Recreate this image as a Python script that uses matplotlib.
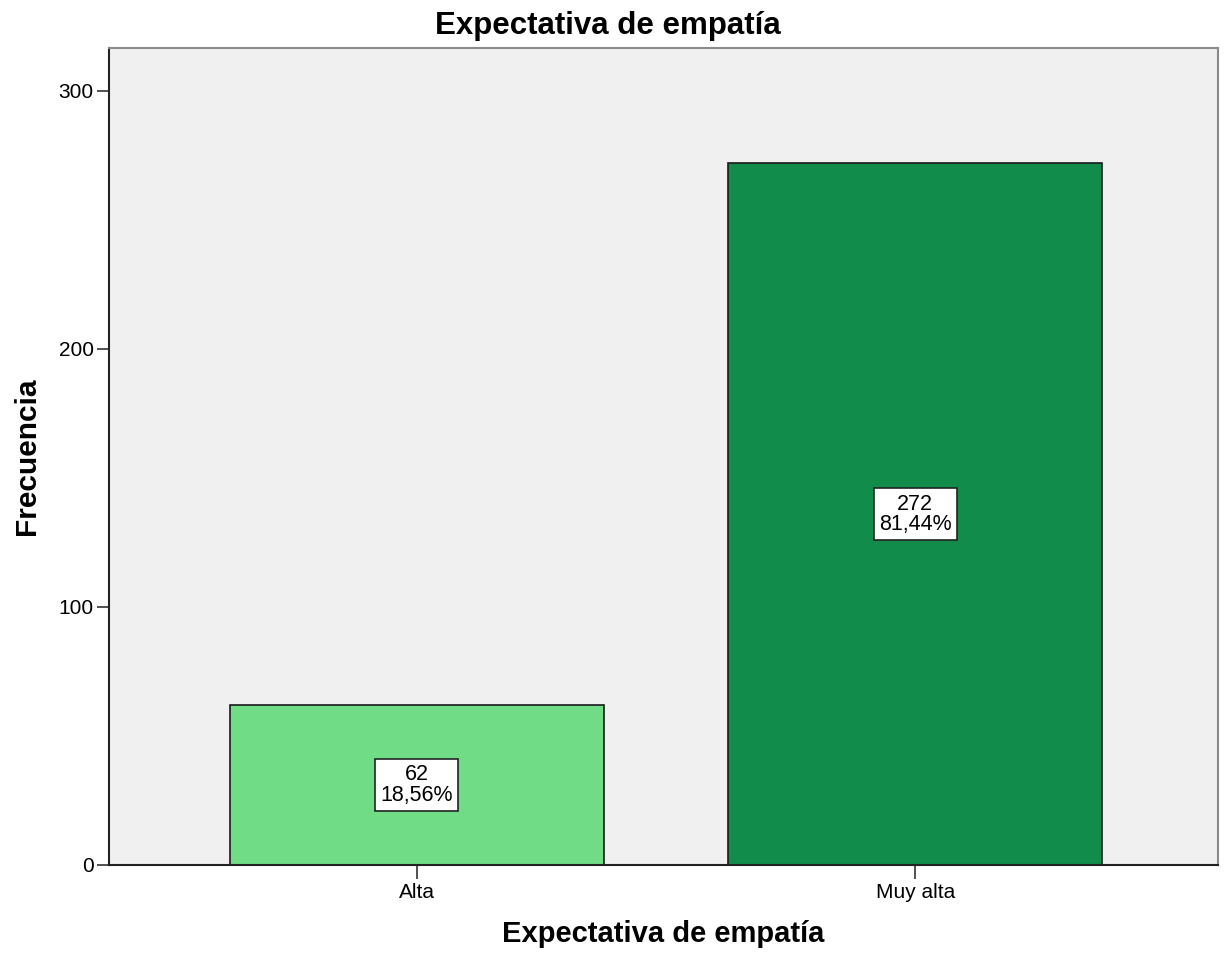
import matplotlib
matplotlib.use("Agg")
import matplotlib.pyplot as plt

categories = ["Alta", "Muy alta"]
counts = [62, 272]
percents = ["18,56%", "81,44%"]
bar_colors = ["#70dc86", "#118c4a"]

plt.rcParams['font.family'] = ['Liberation Sans', 'DejaVu Sans']

fig = plt.figure(figsize=(12.29, 9.58), dpi=100)
ax = fig.add_axes([0.0887, 0.0971, 0.9023, 0.8529])
ax.set_facecolor("#f0f0f0")

x = range(len(categories))
ax.bar(x, counts, width=0.75, color=bar_colors, edgecolor="#1a1a1a", linewidth=1.2, zorder=2)

# count and percentage label in a white box at mid height of each bar
for i, (c, p) in enumerate(zip(counts, percents)):
    ax.text(i, c / 2, f"{c}\n{p}", ha="center", va="center", fontsize=15.5,
            linespacing=0.95, zorder=3,
            bbox=dict(boxstyle="square,pad=0.25", facecolor="white", edgecolor="#222222", linewidth=1.2))

ax.set_xlim(-0.617, 1.607)
ax.set_ylim(0, 316.7)
ax.set_xticks(list(x))
ax.set_xticklabels(categories, fontsize=15)
ax.set_yticks([0, 100, 200, 300])
ax.tick_params(axis="y", labelsize=15, length=9, width=1.2, color="#333333", pad=2)
ax.tick_params(axis="x", length=10, width=1.2, color="#333333", pad=3)

for side in ["left", "bottom"]:
    ax.spines[side].set_color("#222222")
    ax.spines[side].set_linewidth(1.5)
for side in ["top", "right"]:
    ax.spines[side].set_color("#8a8a8a")
    ax.spines[side].set_linewidth(1.5)

fig.text(0.495, 0.964, "Expectativa de empatía", ha="center", va="baseline",
         fontsize=22.5, fontweight="bold")
ax.set_xlabel("Expectativa de empatía", fontsize=21, fontweight="bold", labelpad=13)
ax.set_ylabel("Frecuencia", fontsize=21.5, fontweight="bold", labelpad=13)

fig.savefig("out.png", dpi=100)
